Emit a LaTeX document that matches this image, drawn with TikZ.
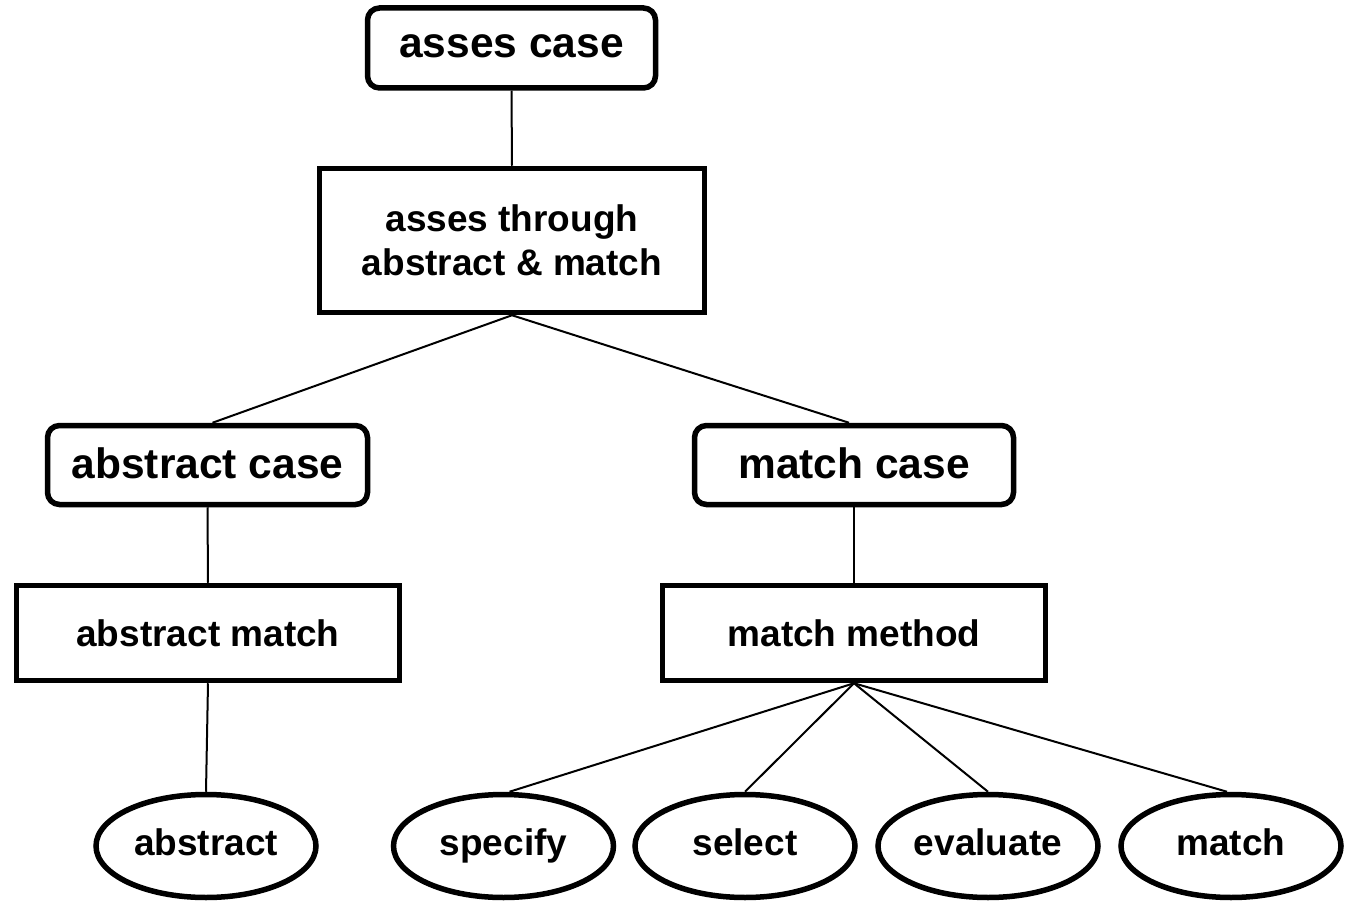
\documentclass[tikz,border=0pt]{standalone}
\usepackage{fontspec}
\setmainfont{Liberation Sans}
\usetikzlibrary{shapes.geometric}
\begin{document}
\begin{tikzpicture}[x=1pt,y=-1pt,
  bigfont/.style={font=\bfseries\fontsize{42.5}{48}\selectfont},
  smallfont/.style={font=\bfseries\fontsize{37}{44}\selectfont},
  roundbox/.style={draw,line width=5.5pt,rounded corners=12pt,inner sep=0pt,bigfont,text depth=4pt},
  sqbox/.style={draw,line width=5.5pt,inner sep=0pt,smallfont,align=center},
  oval/.style={draw,ellipse,line width=5.5pt,inner sep=0pt,minimum width=220pt,minimum height=103pt,smallfont,text height=26.5pt,text depth=7.8pt},
  link/.style={line width=2pt}]
\useasboundingbox (0,0) rectangle (1350,904);
\node[roundbox,minimum width=288pt,minimum height=80pt] (ac) at (511.5,48) {asses case};
\node[sqbox,minimum width=385pt,minimum height=144pt] (am) at (512,240.5) {asses through\\abstract \& match};
\node[roundbox,minimum width=320pt,minimum height=79pt] (abc) at (207.5,465) {abstract case};
\node[roundbox,minimum width=319pt,minimum height=79pt] (mc) at (854,465) {match case};
\node[sqbox,minimum width=383pt,minimum height=95pt] (abm) at (208,633) {abstract match};
\node[sqbox,minimum width=383pt,minimum height=95pt] (mm) at (854,633) {match method};
\node[oval] (abs) at (206,846) {abstract};
\node[oval] (spe) at (503.5,846) {specify};
\node[oval] (sel) at (745,846) {select};
\node[oval] (eva) at (988,846) {evaluate};
\node[oval] (mat) at (1231,846) {match};
\draw[link] (ac.south) -- (am.north);
\draw[link] (am.south) -- ([xshift=5pt]abc.north);
\draw[link] (am.south) -- ([xshift=-5pt]mc.north);
\draw[link] (abc.south) -- (abm.north);
\draw[link] (mc.south) -- (mm.north);
\draw[link] (abm.south) -- (abs.north);
\draw[link] (mm.south) -- ([xshift=6pt]spe.north);
\draw[link] (mm.south) -- (sel.north);
\draw[link] (mm.south) -- (eva.north);
\draw[link] (mm.south) -- ([xshift=-4pt]mat.north);
\end{tikzpicture}
\end{document}
